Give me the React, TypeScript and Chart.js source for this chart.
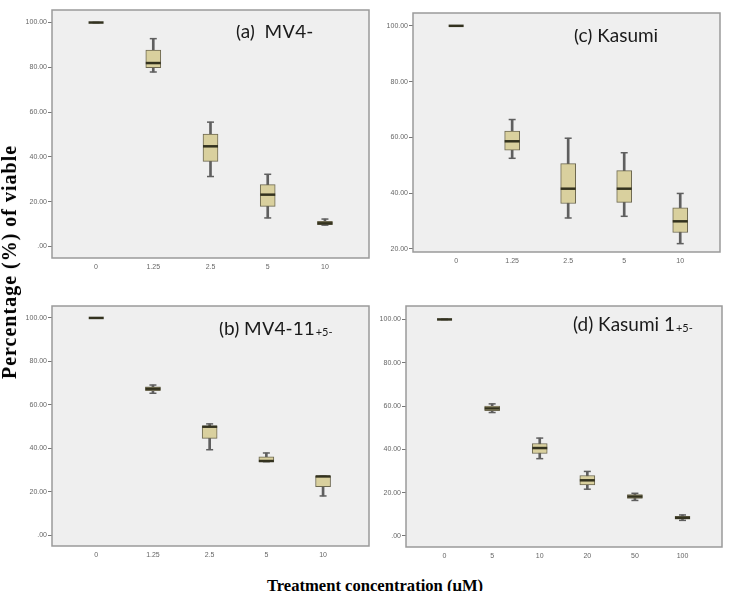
import React, { useEffect, useRef } from 'react';
import { Chart, registerables } from 'chart.js';
Chart.register(...registerables);

// ---- data ----
const aLabels = ['0', '1.25', '2.5', '5', '10'];
const aMin = [100, 77.9, 31.2, 12.7, 9.5];
const aQ1 = [100, 79.8, 38.0, 17.9, 9.7];
const aMed = [100, 81.9, 44.7, 23.1, 10.3];
const aQ3 = [100, 87.7, 50.2, 27.6, 11.2];
const aMax = [100, 92.8, 55.5, 32.2, 12.2];

const cLabels = ['0', '1.25', '2.5', '5', '10'];
const cMin = [100, 52.5, 31.1, 31.7, 21.9];
const cQ1 = [100, 55.4, 36.3, 36.7, 25.9];
const cMed = [100, 58.6, 41.6, 41.6, 29.9];
const cQ3 = [100, 62.3, 50.6, 48.1, 34.7];
const cMax = [100, 66.4, 59.7, 54.5, 39.9];

const bLabels = ['0', '1.25', '2.5', '5', '10'];
const bMin = [100, 65.3, 39.3, 33.8, 18.0];
const bQ1 = [100, 66.5, 44.5, 33.8, 22.3];
const bMed = [100, 67.4, 49.9, 34.1, 27.0];
const bQ3 = [100, 68.3, 50.2, 36.0, 27.0];
const bMax = [100, 69.1, 51.2, 37.8, 27.1];

const dLabels = ['0', '5', '10', '20', '50', '100'];
const dMin = [100, 57.0, 35.7, 21.6, 16.4, 7.2];
const dQ1 = [100, 57.9, 38.1, 23.6, 17.3, 7.8];
const dMed = [100, 58.9, 40.6, 25.7, 18.2, 8.4];
const dQ3 = [100, 60.0, 42.7, 27.9, 19.1, 9.1];
const dMax = [100, 61.0, 45.2, 29.8, 19.7, 9.7];

const yTicksFrom0 = [0, 20, 40, 60, 80, 100];
const yTicksFrom20 = [20, 40, 60, 80, 100];

const yTitle = 'Percentage (%) of viable';
const xTitle = 'Treatment concentration (\u03bcM)';

type Frame = { L: number; T: number; R: number; B: number };
type PanelProps = {
  labels: string[];
  mins: number[];
  q1s: number[];
  meds: number[];
  q3s: number[];
  maxs: number[];
  yTicks: number[];
  yMin: number;
  yMax: number;
  xMin: number;
  xMax: number;
  frame: Frame;
  title: string;
  sub: string;
  tx: number;
  tBase: number;
  tClip: number;
};

const PAD_L = 50;
const PAD_T = 2;
const PAD_R = 4;
const PAD_B = 22;

function fmt(v: number) {
  return v === 0 ? '.00' : v.toFixed(2);
}

function BoxPanel(p: PanelProps) {
  const ref = useRef<HTMLCanvasElement>(null);
  const left = p.frame.L - PAD_L;
  const top = p.frame.T - PAD_T;
  const width = p.frame.R - p.frame.L + PAD_L + PAD_R;
  const height = p.frame.B - p.frame.T + PAD_T + PAD_B;

  useEffect(() => {
    if (!ref.current) return;
    const idx = p.labels.map((_, i) => i);
    const framePlugin = {
      id: 'frameBg',
      beforeDraw(chart: any) {
        const { ctx, chartArea: a } = chart;
        ctx.save();
        ctx.fillStyle = '#efefef';
        ctx.fillRect(a.left, a.top, a.right - a.left, a.bottom - a.top);
        ctx.restore();
      },
      afterDraw(chart: any) {
        const { ctx, chartArea: a } = chart;
        ctx.save();
        ctx.strokeStyle = '#9a9a9a';
        ctx.lineWidth = 1.5;
        ctx.strokeRect(a.left, a.top, a.right - a.left, a.bottom - a.top);
        // panel title (clipped at top like the reference)
        ctx.beginPath();
        ctx.rect(0, p.tClip - top, width, height);
        ctx.clip();
        ctx.fillStyle = '#1a1a1a';
        ctx.textBaseline = 'alphabetic';
        ctx.textAlign = 'left';
        ctx.font = '19px Lato';
        const x0 = p.tx - left;
        const y0 = p.tBase - top;
        ctx.fillText(p.title, x0, y0);
        if (p.sub) {
          const w = ctx.measureText(p.title).width;
          ctx.font = '11px Lato';
          ctx.fillText(p.sub, x0 + w + 1, y0 + 1);
        }
        ctx.restore();
      },
    };

    const chart = new Chart(ref.current, {
      type: 'bar',
      data: {
        datasets: [
          {
            type: 'bar',
            data: idx.map((i) => ({ x: i, y: [p.mins[i], p.maxs[i]] })) as any,
            backgroundColor: '#5f5f5f',
            borderWidth: 0,
            barThickness: 2,
            grouped: false,
            order: 3,
          } as any,
          {
            type: 'bar',
            data: idx.map((i) => ({ x: i, y: [p.q1s[i], p.q3s[i]] })) as any,
            backgroundColor: '#d9d09e',
            borderColor: '#6d6850',
            borderWidth: 1,
            borderSkipped: false,
            barThickness: 15,
            grouped: false,
            order: 2,
          } as any,
          {
            type: 'line',
            data: idx
              .map((i) => ({ x: i, y: p.mins[i] }))
              .concat(idx.map((i) => ({ x: i, y: p.maxs[i] }))) as any,
            showLine: false,
            pointStyle: 'line',
            pointRadius: 3.5,
            pointBorderWidth: 1.5,
            pointBorderColor: '#5f5f5f',
            pointBackgroundColor: '#5f5f5f',
            order: 1,
          } as any,
          {
            type: 'line',
            data: idx.map((i) => ({ x: i, y: p.meds[i] })) as any,
            showLine: false,
            pointStyle: 'line',
            pointRadius: 7.5,
            pointBorderWidth: 2.5,
            pointBorderColor: '#33321f',
            pointBackgroundColor: '#33321f',
            order: 0,
          } as any,
        ],
      },
      options: {
        animation: false,
        responsive: false,
        maintainAspectRatio: false,
        layout: { padding: { left: 0, top: PAD_T, right: PAD_R, bottom: 0 } },
        plugins: { legend: { display: false }, tooltip: { enabled: false } },
        scales: {
          x: {
            type: 'linear',
            offset: false,
            min: p.xMin,
            max: p.xMax,
            grid: { display: false, drawTicks: false, tickLength: 0 },
            border: { display: false },
            afterBuildTicks: (s: any) => {
              s.ticks = idx.map((v) => ({ value: v }));
            },
            afterFit: (s: any) => {
              s.height = PAD_B;
            },
            ticks: {
              autoSkip: false,
              maxRotation: 0,
              padding: 5,
              color: '#666',
              font: { size: 7, family: 'Liberation Sans' },
              callback: (v: any) => p.labels[Math.round(Number(v))] ?? '',
            },
          },
          y: {
            type: 'linear',
            min: p.yMin,
            max: p.yMax,
            grid: {
              display: true,
              drawOnChartArea: false,
              drawTicks: true,
              tickLength: 4,
              color: '#777',
            },
            border: { display: false },
            afterBuildTicks: (s: any) => {
              s.ticks = p.yTicks.map((v) => ({ value: v }));
            },
            afterFit: (s: any) => {
              s.width = PAD_L;
            },
            ticks: {
              padding: 1,
              color: '#666',
              font: { size: 7, family: 'Liberation Sans' },
              callback: (v: any) => fmt(Number(v)),
            },
          },
        },
      } as any,
      plugins: [framePlugin],
    });
    return () => chart.destroy();
  }, []);

  return (
    <canvas
      ref={ref}
      width={width}
      height={height}
      style={{ position: 'absolute', left, top, width, height }}
    />
  );
}

export default function App() {
  return (
    <div
      style={{
        position: 'absolute',
        left: 0,
        top: 0,
        width: 731,
        height: 591,
        overflow: 'hidden',
        background: '#ffffff',
      }}
    >
      <BoxPanel
        labels={aLabels}
        mins={aMin}
        q1s={aQ1}
        meds={aMed}
        q3s={aQ3}
        maxs={aMax}
        yTicks={yTicksFrom0}
        yMin={-5.2}
        yMax={105.6}
        xMin={-0.77}
        xMax={4.77}
        frame={{ L: 52, T: 2, R: 375, B: 258 }}
        title="(a)  MV4-"
        sub=""
        tx={236}
        tBase={38}
        tClip={25}
      />
      <BoxPanel
        labels={cLabels}
        mins={cMin}
        q1s={cQ1}
        meds={cMed}
        q3s={cQ3}
        maxs={cMax}
        yTicks={yTicksFrom20}
        yMin={18.9}
        yMax={104.6}
        xMin={-0.77}
        xMax={4.71}
        frame={{ L: 413, T: 5, R: 726, B: 252 }}
        title="(c) Kasumi"
        sub=""
        tx={574}
        tBase={42}
        tClip={29}
      />
      <BoxPanel
        labels={bLabels}
        mins={bMin}
        q1s={bQ1}
        meds={bMed}
        q3s={bQ3}
        maxs={bMax}
        yTicks={yTicksFrom0}
        yMin={-5.05}
        yMax={105.5}
        xMin={-0.78}
        xMax={4.81}
        frame={{ L: 52, T: 298, R: 375, B: 546 }}
        title="(b) MV4-11"
        sub="+5-"
        tx={219}
        tBase={335}
        tClip={322}
      />
      <BoxPanel
        labels={dLabels}
        mins={dMin}
        q1s={dQ1}
        meds={dMed}
        q3s={dQ3}
        maxs={dMax}
        yTicks={yTicksFrom0}
        yMin={-5.1}
        yMax={106.2}
        xMin={-0.81}
        xMax={5.83}
        frame={{ L: 406, T: 298, R: 728, B: 547 }}
        title="(d) Kasumi 1"
        sub="+5-"
        tx={573}
        tBase={331}
        tClip={316}
      />
      <div
        style={{
          position: 'absolute',
          left: 9,
          top: 262,
          transform: 'translate(-50%, -50%) rotate(-90deg)',
          whiteSpace: 'nowrap',
          fontFamily: '"Liberation Serif", "Times New Roman", serif',
          fontWeight: 'bold',
          fontSize: 20,
          letterSpacing: '1px',
          lineHeight: '20px',
          color: '#000',
        }}
      >
        {yTitle}
      </div>
      <div
        style={{
          position: 'absolute',
          left: 375,
          top: 577,
          transform: 'translateX(-50%)',
          whiteSpace: 'nowrap',
          fontFamily: '"Liberation Serif", "Times New Roman", serif',
          fontWeight: 'bold',
          fontSize: 16.6,
          lineHeight: '17px',
          color: '#000',
        }}
      >
        {xTitle}
      </div>
    </div>
  );
}
